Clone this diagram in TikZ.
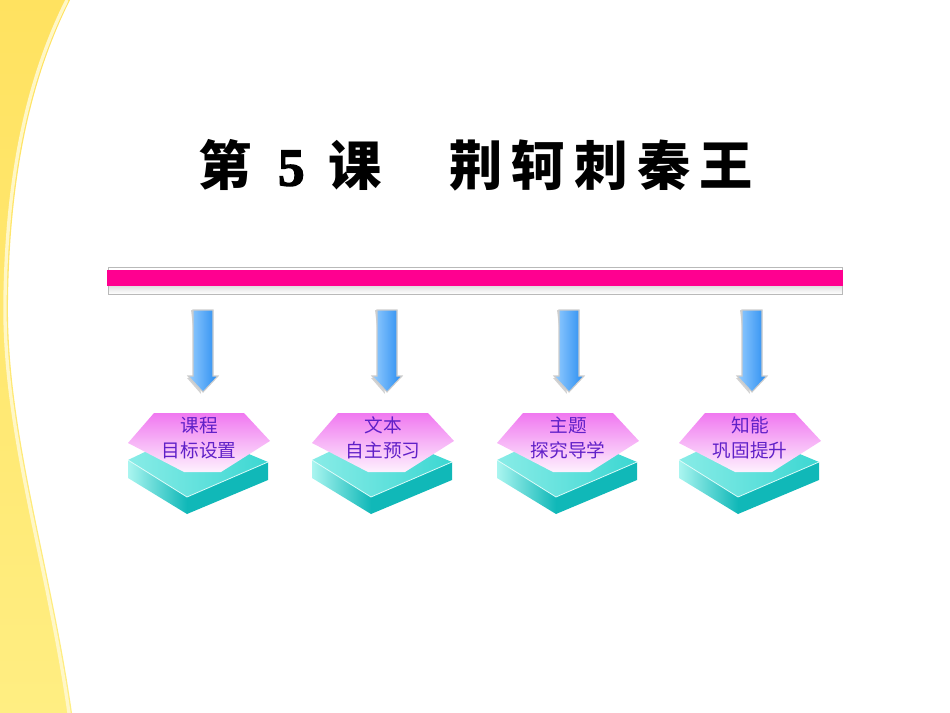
\documentclass[tikz,border=0pt]{standalone}
\usepackage{fontspec}
\setmainfont{Liberation Serif}
\newfontfamily\cjk{Noto Sans CJK SC}
\newfontfamily\numfont{Liberation Serif}[FakeBold=2.5]
\usepackage{tikz}
\usetikzlibrary{positioning, calc}

\definecolor{bandyellow}{RGB}{255,226,96}
\definecolor{bandlight}{RGB}{255,238,130}
\definecolor{barpink}{RGB}{255,0,144}
\definecolor{arrowblue}{RGB}{40,140,240}
\definecolor{arrowlight}{RGB}{150,205,255}
\definecolor{tealdark}{RGB}{16,184,184}
\definecolor{teallight}{RGB}{170,245,240}
\definecolor{tealmid}{RGB}{60,215,210}
\definecolor{toppink}{RGB}{240,120,240}
\definecolor{labelpurple}{RGB}{96,32,200}

\begin{document}
\begin{tikzpicture}[
    x=0.75pt, y=-0.75pt,
    title/.style={font=\cjk\bfseries\fontsize{40}{44}\selectfont, inner sep=0pt},
    label/.style={font=\cjk\fontsize{14}{19}\selectfont, text=labelpurple,
        align=center, inner sep=0pt},
    downarrow/.style={left color=arrowlight, right color=arrowblue, draw=gray!40, line width=0.8pt},
    pinktop/.style={top color=toppink, bottom color=white!90!toppink},
    slabfront/.style={left color=teallight, right color=tealdark},
    slabside/.style={fill=tealdark},
    slabtop/.style={left color=teallight!70!tealmid, right color=tealmid}
]
\useasboundingbox (0,0) rectangle (950,713);

% yellow band on the left
\shade[top color=bandyellow, bottom color=bandlight]
    (0,0) -- (70,0) .. controls (40,60) and (10,150) .. (8,300)
    .. controls (6,430) and (50,560) .. (72,713) -- (0,713) -- cycle;
\draw[white!55!bandlight, line width=2.5pt]
    (67,0) .. controls (37,60) and (7,150) .. (5,300)
    .. controls (3,430) and (47,560) .. (69,713);

% title
\node[title] (lesson) at (290,165) {第\hspace{20pt}{\numfont 5}\hspace{18pt}课};
\node[title] (topic) at (601,165) {荆\hspace{7pt}轲\hspace{7pt}刺\hspace{7pt}秦\hspace{7pt}王};

% bar
\shade[top color=gray!30, bottom color=white] (108,284) rectangle (842,294);
\draw[gray!55] (108,267) rectangle (842,294);
\fill[barpink] (107,270) rectangle (843,286);
\coordinate (bar) at (475,278);

% arrows and boxes
\foreach \cx/\ax/\first/\second [count=\i] in
    {199/203/课程/目标设置, 383/387/文本/自主预习, 568/569/主题/探究导学, 750/752/知能/巩固提升} {
  % arrow
  \fill[gray!35] (\ax-12,310) -- (\ax+10,310) -- (\ax+10,378) -- (\ax-16,378) -- (\ax-2,394) -- cycle;
  \path[downarrow] (\ax-10,310) -- (\ax+10,310) -- (\ax+10,376) -- (\ax+15,376)
      -- (\ax,392) -- (\ax-15,376) -- (\ax-10,376) -- cycle;
  % slab
  \path[slabtop] (\cx-71,460) -- (\cx-8,430) -- (\cx+69,462) -- (\cx-12,497) -- cycle;
  \path[slabfront] (\cx-71,460) -- (\cx-12,497) -- (\cx-12,514) -- (\cx-71,478) -- cycle;
  \path[slabside] (\cx-12,497) -- (\cx+69,462) -- (\cx+69,480) -- (\cx-12,514) -- cycle;
  \draw[white!60!teallight, line width=0.6pt] (\cx-71,460) -- (\cx-12,497) -- (\cx+69,462);
  % pink top
  \path[pinktop] (\cx-71,443) -- (\cx-45,413) -- (\cx+45,413) -- (\cx+71,441)
      -- (\cx+22,472) -- (\cx-15,472) -- cycle;
  \node[label] (box\i) at (\cx,438) {\first\\\second};
}
\end{tikzpicture}
\end{document}
